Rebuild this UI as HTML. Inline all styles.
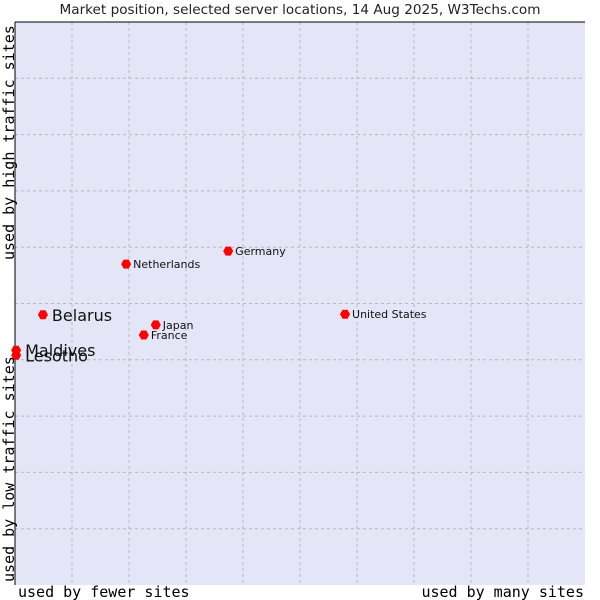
<!DOCTYPE html>
<html><head><meta charset="utf-8"><style>
body{margin:0;background:#fff;width:600px;height:600px;overflow:hidden}
svg{display:block;font-family:"DejaVu Sans","Liberation Sans",sans-serif}
</style></head><body>
<svg width="600" height="600">
<text x="300" y="14" text-anchor="middle" font-size="13.6" fill="#222">Market position, selected server locations, 14 Aug 2025, W3Techs.com</text>
<rect x="15" y="22" width="570" height="563" fill="#e4e6f8"/>
<g id="grid"></g>
<line x1="15" y1="22" x2="15" y2="585" stroke="#000"/>
<line x1="15" y1="22" x2="585" y2="22" stroke="#000"/>
<g id="pts"></g>
<text x="18" y="597" font-family="DejaVu Sans Mono,Liberation Mono,monospace" font-size="15" fill="#000">used by fewer sites</text>
<text x="584" y="597" text-anchor="end" font-family="DejaVu Sans Mono,Liberation Mono,monospace" font-size="15" fill="#000">used by many sites</text>
<text transform="translate(14,582) rotate(-90)" font-family="DejaVu Sans Mono,Liberation Mono,monospace" font-size="15" fill="#000">used by low traffic sites</text>
<text transform="translate(14,260) rotate(-90)" text-anchor="start" font-family="DejaVu Sans Mono,Liberation Mono,monospace" font-size="15" fill="#000">used by high traffic sites</text>
</svg>
<script>
const names=["Belarus","Maldives","Lesotho","Netherlands","Germany","Japan","France","United States"];
const xVals=[4.9,0.2,0.2,19.5,37.4,24.7,22.6,57.9];
const yVals=[48.0,41.7,40.8,57.0,59.3,46.2,44.4,48.1];
const bigLabel=[true,true,true,false,false,false,false,false];
const NS="http://www.w3.org/2000/svg";
const X=v=>15+v*5.7, Y=v=>585-v*5.63;
const g=document.getElementById('grid');
for(let i=1;i<10;i++){
 const l=document.createElementNS(NS,'line');
 
 
 l.setAttribute('x1',X(i*10));l.setAttribute('x2',X(i*10));l.setAttribute('y1',22);l.setAttribute('y2',585);
 l.setAttribute('stroke','#b8b8b8');l.setAttribute('stroke-dasharray','3,3');g.appendChild(l);
 const h=document.createElementNS(NS,'line');
 
 
 h.setAttribute('y1',Y(i*10));h.setAttribute('y2',Y(i*10));h.setAttribute('x1',15);h.setAttribute('x2',585);
 h.setAttribute('stroke','#b8b8b8');h.setAttribute('stroke-dasharray','3,3');g.appendChild(h);
}
const p=document.getElementById('pts');
names.forEach((n,i)=>{
 const x=X(xVals[i]),y=Y(yVals[i]);
 const m=document.createElementNS(NS,'path');
 
 
 m.setAttribute('d',`M${x-5},${y} L${x-2.5},${y-4.5} L${x+2.5},${y-4.5} L${x+5},${y} L${x+2.5},${y+4.5} L${x-2.5},${y+4.5}Z`);
 m.setAttribute('fill','#f00');p.appendChild(m);
 const t=document.createElementNS(NS,'text');
 
 
 const big=bigLabel[i];
 t.setAttribute('x',x+(big?9:7));t.setAttribute('y',y+(big?6:4));
 t.setAttribute('font-size',big?16:11);t.setAttribute('fill','#111');
 t.textContent=n;p.appendChild(t);
});
</script>
</body></html>
